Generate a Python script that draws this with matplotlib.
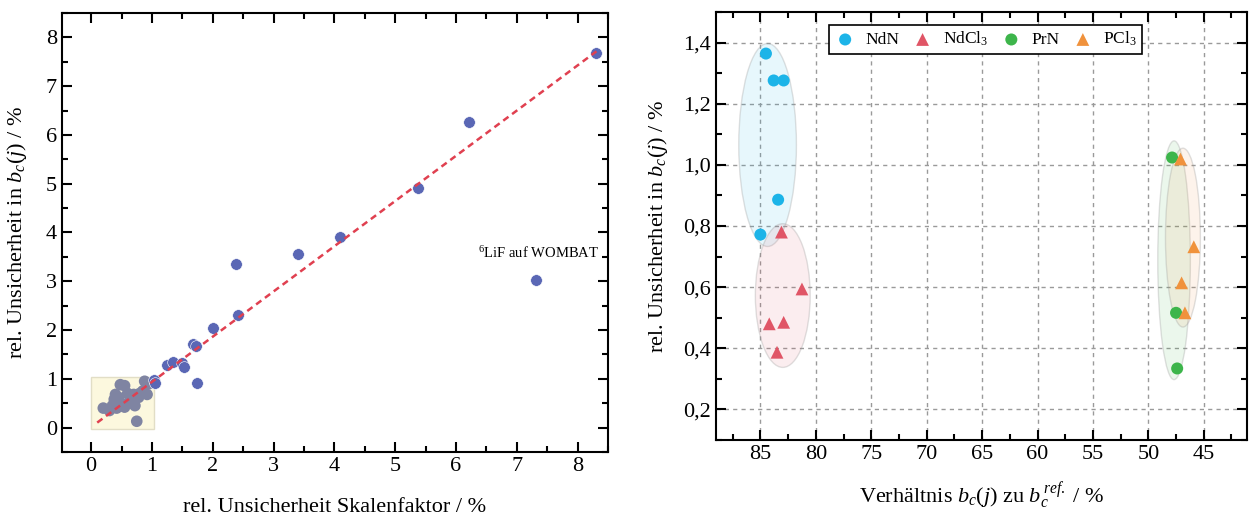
import numpy as np
import matplotlib
matplotlib.use("Agg")
import matplotlib.pyplot as plt
from matplotlib.patches import Ellipse, Rectangle
from matplotlib.ticker import MultipleLocator, FuncFormatter

plt.rcParams['font.family'] = ['Liberation Serif', 'DejaVu Serif']
plt.rcParams['mathtext.fontset'] = 'custom'
plt.rcParams['mathtext.rm'] = 'Liberation Serif'
plt.rcParams['mathtext.it'] = 'Liberation Serif:italic'

# left panel: points inside the highlighted box (grey) and outside (blue)
box_x = [0.20, 0.30, 0.35, 0.38, 0.40, 0.45, 0.48, 0.55, 0.42, 0.50, 0.55, 0.60,
         0.65, 0.68, 0.72, 0.70, 0.75, 0.80, 0.85, 0.88, 0.92, 0.95, 0.62, 0.78]
box_y = [0.40, 0.35, 0.45, 0.58, 0.68, 0.62, 0.88, 0.86, 0.40, 0.48, 0.42, 0.70,
         0.62, 0.55, 0.45, 0.68, 0.13, 0.70, 0.75, 0.95, 0.68, 0.90, 0.52, 0.62]
out_x = [1.03, 1.05, 1.25, 1.35, 1.50, 1.52, 1.74, 1.68, 1.73, 2.00, 2.42, 2.39,
         3.41, 4.10, 5.38, 6.21, 7.31, 8.31]
out_y = [0.98, 0.92, 1.28, 1.35, 1.33, 1.25, 0.92, 1.72, 1.68, 2.04, 2.31, 3.35,
         3.55, 3.90, 4.92, 6.26, 3.03, 7.67]
fit_x = [0.10, 8.31]
fit_slope, fit_icpt = 0.927, 0.01

# right panel
ndn_x = [84.5, 83.8, 82.9, 83.4, 85.0]
ndn_y = [1.364, 1.276, 1.276, 0.886, 0.772]
ndcl_x = [83.1, 81.25, 84.2, 82.9, 83.5]
ndcl_y = [0.78, 0.594, 0.48, 0.485, 0.387]
prn_x = [47.86, 47.5, 47.4]
prn_y = [1.024, 0.516, 0.334]
pcl_x = [47.1, 45.9, 47.0, 46.7]
pcl_y = [1.019, 0.732, 0.614, 0.516]
# ellipses: (cx, cy, width, height)
ell_ndn = (84.35, 1.065, 5.2, 0.664)
ell_ndcl = (82.98, 0.5725, 4.95, 0.47)
ell_prn = (47.68, 0.688, 2.94, 0.781)
ell_pcl = (46.88, 0.762, 3.15, 0.585)

c_blue = '#1CB4E8'
c_red = '#E05566'
c_green = '#3DB54B'
c_orange = '#F0923C'

fig = plt.figure(figsize=(12.49, 5.19), dpi=100)
ax1 = fig.add_axes([0.0496, 0.1291, 0.4372, 0.8459])
ax2 = fig.add_axes([0.5733, 0.1522, 0.4251, 0.8247])

def style_axes(ax):
    for s in ax.spines.values():
        s.set_linewidth(1.5)
    ax.tick_params(which='both', direction='in', top=True, right=True, labelsize=16, width=1.5)
    ax.tick_params(which='major', length=7)
    ax.tick_params(which='minor', length=4)

# ---- left
ax1.add_patch(Rectangle((0.0, -0.02), 1.03, 1.06, facecolor='#FCF8DE', edgecolor='#E2DEC6', lw=1, zorder=1))
ax1.scatter(box_x, box_y, s=70, color='#7F84A2', edgecolor='none', zorder=2)
ax1.scatter(out_x, out_y, s=70, color='#5A67B5', edgecolor='white', linewidth=0.4, zorder=2)
fx = np.array(fit_x)
ax1.plot(fx, fit_slope * fx + fit_icpt, color='#E04050', lw=1.8, dashes=(2.6, 1.8), zorder=3)
ax1.text(6.37, 3.58, r'$^{6}$LiF auf WOMBAT', fontsize=10.5, va='center', ha='left')
ax1.set_xlim(-0.48, 8.5)
ax1.set_ylim(-0.5, 8.5)
ax1.xaxis.set_major_locator(MultipleLocator(1))
ax1.xaxis.set_minor_locator(MultipleLocator(0.5))
ax1.yaxis.set_major_locator(MultipleLocator(1))
ax1.yaxis.set_minor_locator(MultipleLocator(0.5))
style_axes(ax1)
ax1.set_xlabel('rel. Unsicherheit Skalenfaktor / %', fontsize=16, labelpad=16)
ax1.set_ylabel(r'rel. Unsicherheit in $b_c(j)$ / %', fontsize=16, labelpad=12)

# ---- right
for (cx, cy, w, h), col in [(ell_ndn, c_blue), (ell_ndcl, c_red), (ell_prn, c_green), (ell_pcl, c_orange)]:
    ax2.add_patch(Ellipse((cx, cy), w, h, facecolor=matplotlib.colors.to_rgba(col, 0.1),
                          edgecolor=(0.6, 0.6, 0.6, 0.3), lw=1, zorder=1))
ax2.scatter(ndn_x, ndn_y, s=75, marker='o', color=c_blue, edgecolor='none', zorder=3, label='NdN')
ax2.scatter(ndcl_x, ndcl_y, s=85, marker='^', color=c_red, edgecolor='none', zorder=3, label='NdCl$_3$')
ax2.scatter(prn_x, prn_y, s=75, marker='o', color=c_green, edgecolor='none', zorder=3, label='PrN')
ax2.scatter(pcl_x, pcl_y, s=85, marker='^', color=c_orange, edgecolor='none', zorder=3, label='PCl$_3$')
ax2.set_xlim(89, 41.1)
ax2.set_ylim(0.1, 1.5)
ax2.xaxis.set_major_locator(MultipleLocator(5))
ax2.xaxis.set_minor_locator(MultipleLocator(2.5))
ax2.yaxis.set_major_locator(MultipleLocator(0.2))
ax2.yaxis.set_minor_locator(MultipleLocator(0.1))
ax2.yaxis.set_major_formatter(FuncFormatter(lambda v, p: f'{v:.1f}'.replace('.', ',')))
ax2.grid(which='major', color='#9A9A9A', ls=(0, (3, 3)), lw=1)
ax2.set_axisbelow(True)
style_axes(ax2)
ax2.set_xlabel(r'Verhältnis $b_c(j)$ zu $b_c^{\,ref.}$ / %', fontsize=16, labelpad=12)
ax2.set_ylabel(r'rel. Unsicherheit in $b_c(j)$ / %', fontsize=16, labelpad=10)
leg = ax2.legend(loc='upper center', ncol=4, fontsize=12.5, frameon=True, fancybox=False,
                 edgecolor='black', framealpha=1, borderpad=0.3, handletextpad=0.5,
                 handlelength=1.3, columnspacing=0.7, borderaxespad=0,
                 bbox_to_anchor=(0.507, 0.97))
leg.get_frame().set_linewidth(1.2)

fig.savefig('out.png', dpi=100)
